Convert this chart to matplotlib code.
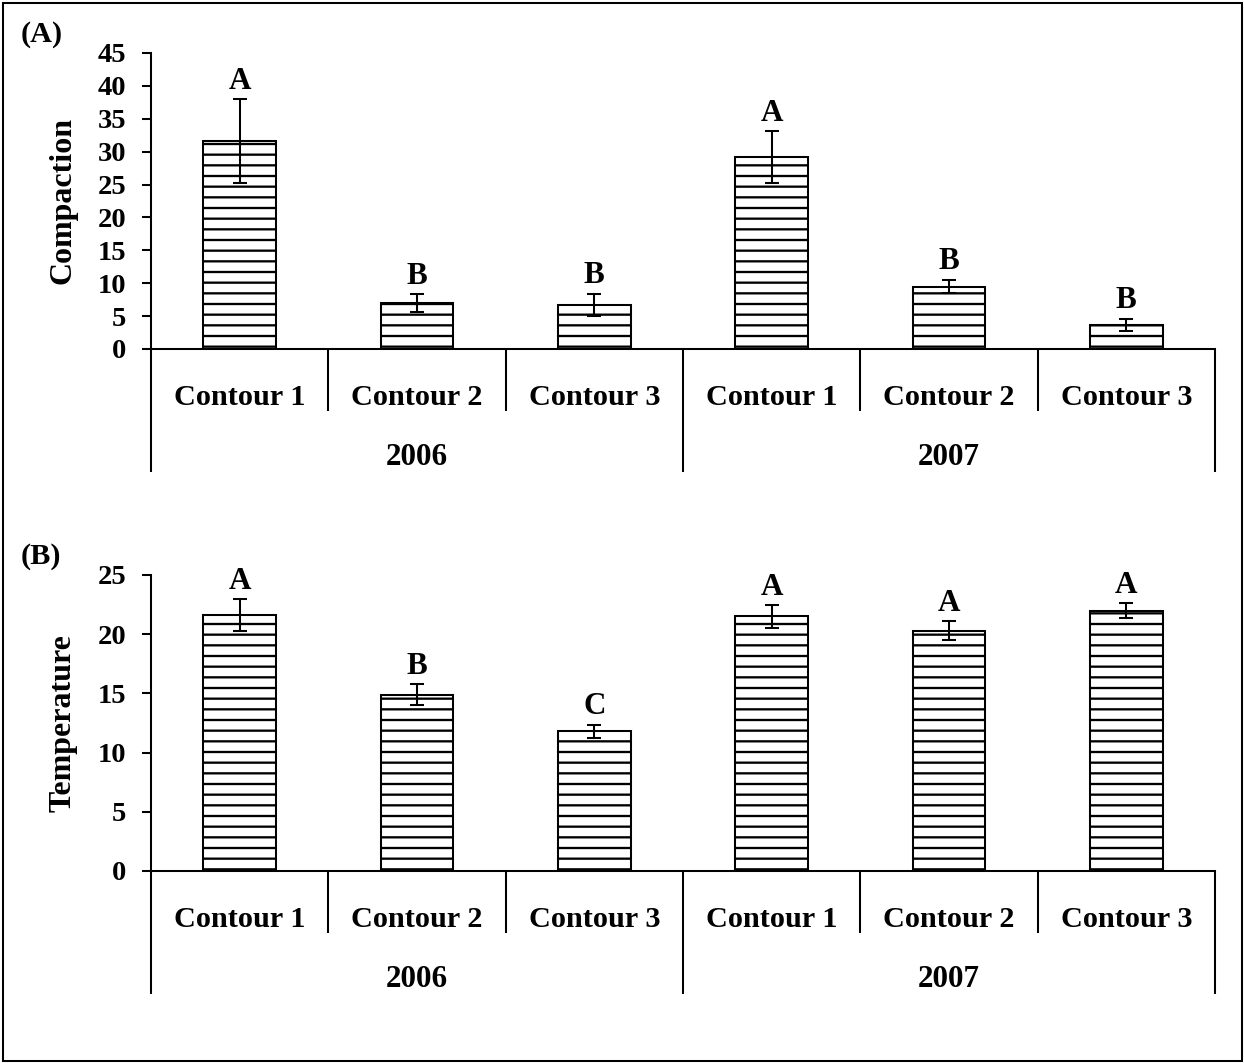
import matplotlib
matplotlib.use("Agg")
import matplotlib.pyplot as plt
import matplotlib.transforms as mtransforms
from matplotlib.patches import Rectangle
import numpy as np

# --- data -------------------------------------------------------------
years = ["2006", "2007"]
contours = ["Contour 1", "Contour 2", "Contour 3"]

compaction = [31.6, 7.0, 6.7, 29.2, 9.5, 3.7]
compaction_err = [6.4, 1.35, 1.7, 3.9, 1.05, 0.9]
compaction_groups = ["A", "B", "B", "A", "B", "B"]
compaction_ticks = [0, 5, 10, 15, 20, 25, 30, 35, 40, 45]

temperature = [21.6, 14.9, 11.8, 21.5, 20.3, 22.0]
temperature_err = [1.35, 0.9, 0.55, 0.95, 0.8, 0.6]
temperature_groups = ["A", "B", "C", "A", "A", "A"]
temperature_ticks = [0, 5, 10, 15, 20, 25]

# --- style ------------------------------------------------------------
DPI = 128
plt.rcParams["font.family"] = ["Liberation Serif", "DejaVu Serif"]
plt.rcParams["font.weight"] = "bold"
plt.rcParams["hatch.linewidth"] = 1.3
plt.rcParams["hatch.color"] = "black"

LW = 1.15  # points

fig = plt.figure(figsize=(1244 / DPI, 1063 / DPI), dpi=DPI)
W, H = 1244, 1063


def px_axes(x0, y_top, x1, y_bottom):
    return [x0 / W, 1 - y_bottom / H, (x1 - x0) / W, (y_bottom - y_top) / H]


def draw_panel(rect, values, errs, groups, ticks, ylabel, ylabel_y, tag, tag_y):
    ax = fig.add_axes(rect)
    n = len(values)
    x = np.arange(n)
    ax.bar(x, values, width=0.41, color="white", edgecolor="black",
           hatch="--", linewidth=LW, zorder=2)
    ax.errorbar(x, values, yerr=errs, fmt="none", ecolor="black",
                elinewidth=LW, capsize=3.8, capthick=LW, zorder=3)
    for xi, v, e, g in zip(x, values, errs, groups):
        ax.annotate(g, (xi, v + e), xytext=(0, 5.8), textcoords="offset points",
                    ha="center", va="baseline", fontsize=17.5, fontweight="bold")

    ax.set_xlim(-0.5, n - 0.5)
    ax.set_ylim(ticks[0], ticks[-1])
    ax.set_yticks(ticks)
    ax.tick_params(axis="y", direction="out", length=5, width=LW, pad=9,
                   labelsize=16)
    for lab in ax.get_yticklabels():
        lab.set_fontweight("bold")
    ax.set_xticks([])
    for side in ("top", "right"):
        ax.spines[side].set_visible(False)
    for side in ("left", "bottom"):
        ax.spines[side].set_linewidth(LW)

    ax_h = rect[3] * H
    trans = mtransforms.blended_transform_factory(ax.transData, ax.transAxes)
    short = -62 / ax_h
    long_ = -123 / ax_h
    # category separators
    for b in np.arange(-0.5, n, 1.0):
        is_year = b in (-0.5, 2.5, n - 0.5)
        ax.plot([b, b], [0, long_ if is_year else short], color="black",
                lw=LW, transform=trans, clip_on=False, solid_capstyle="butt")
    # category labels
    for i in range(n):
        ax.text(i, -56 / ax_h, contours[i % 3], transform=trans,
                ha="center", va="baseline", fontsize=17, fontweight="bold")
    # year labels
    for j, yr in enumerate(years):
        ax.text(3 * j + 1, -116 / ax_h, yr, transform=trans,
                ha="center", va="baseline", fontsize=17.5, fontweight="bold")

    fig.text(63 / W, 1 - ylabel_y / H, ylabel, rotation=90, ha="center",
             va="center", fontsize=18, fontweight="bold")
    fig.text(21 / W, 1 - tag_y / H, tag, ha="left", va="center",
             fontsize=17, fontweight="bold")
    return ax


draw_panel(px_axes(151, 53, 1215, 349), compaction, compaction_err,
           compaction_groups, compaction_ticks, "Compaction", 201, "(A)", 34)
draw_panel(px_axes(151, 575, 1215, 871), temperature, temperature_err,
           temperature_groups, temperature_ticks, "Temperature", 723, "(B)", 556)

# outer frame
fig.patches.append(Rectangle((3 / W, 1 - 1061 / H), 1239 / W, 1058 / H,
                             transform=fig.transFigure, fill=False,
                             edgecolor="black", linewidth=LW))

fig.savefig("out.png", dpi=DPI)
